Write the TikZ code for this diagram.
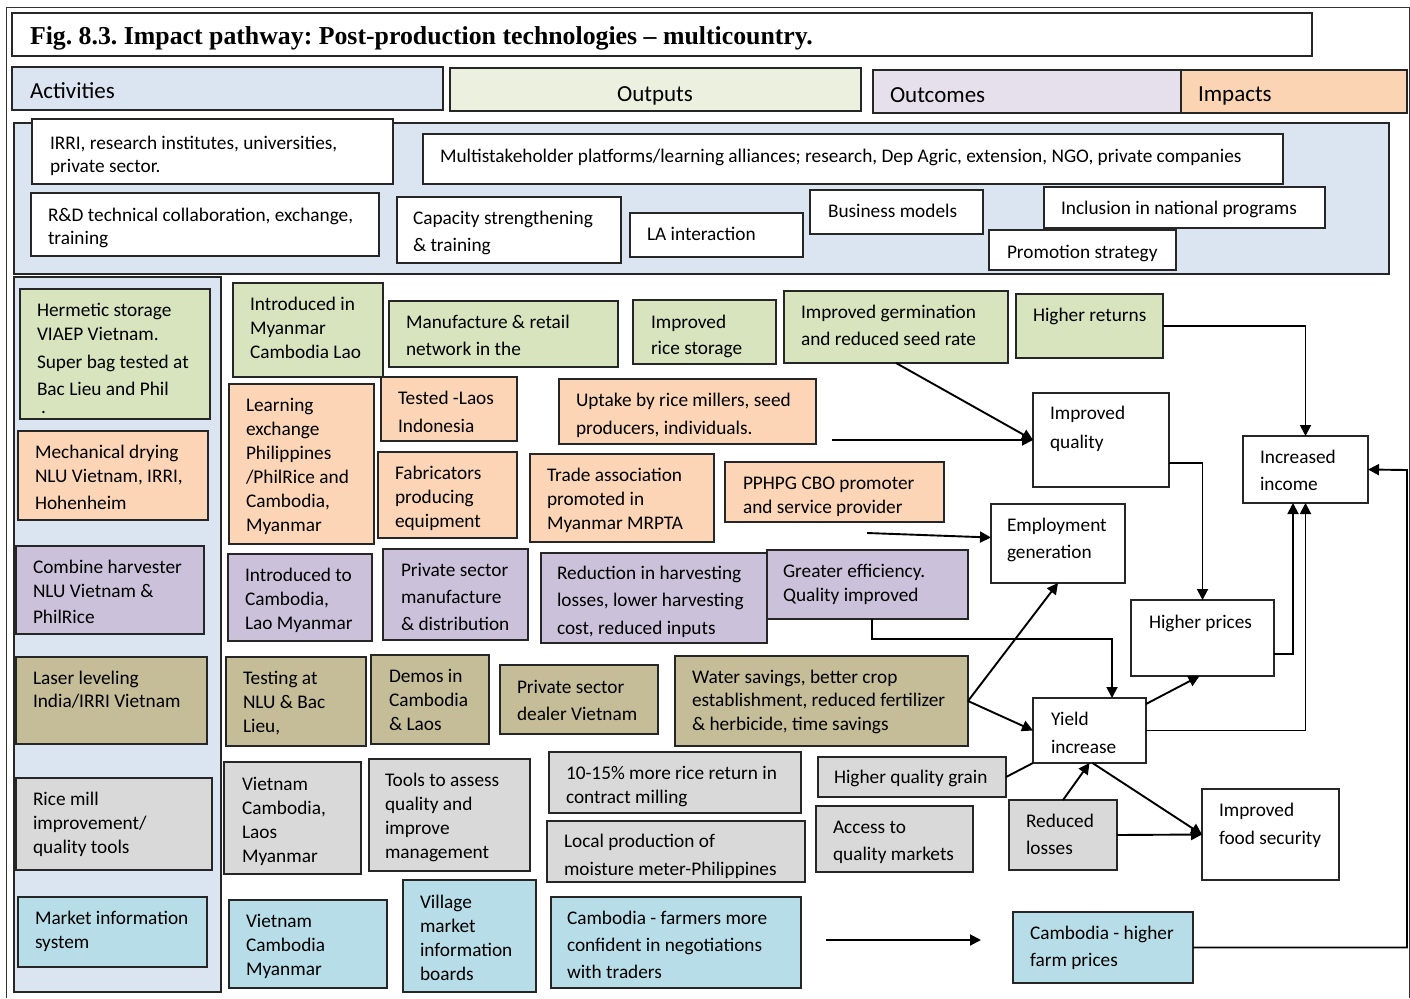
\documentclass[tikz,border=0pt]{standalone}
\usepackage{fontspec}
\setmainfont{Carlito}
\newfontfamily\titlefont{Liberation Serif}
\usetikzlibrary{arrows.meta,calc}
\frenchspacing

\definecolor{pblue}{HTML}{DBE5F1}
\definecolor{hgreen}{HTML}{EBF1DE}
\definecolor{hlav}{HTML}{E5E0EC}
\definecolor{hpeach}{HTML}{FBD4B4}
\definecolor{cgreen}{HTML}{D7E4BD}
\definecolor{cpeach}{HTML}{FBD5B5}
\definecolor{clav}{HTML}{CCC1DA}
\definecolor{ckhaki}{HTML}{C4BD97}
\definecolor{cgray}{HTML}{D9D9D9}
\definecolor{cblue}{HTML}{B7DEE8}

\tikzset{
  boxst/.style={draw=black!85, line width=1.4pt, inner sep=0pt, outer sep=0pt, anchor=north west, rectangle},
  txt/.style={inner sep=0pt, outer sep=0pt, align=left, anchor=north west, text=black},
  arr/.style={line width=1.9pt, -{Triangle[length=11pt,width=11pt]}},
  conn/.style={line width=1.9pt},
}

\newcommand{\bx}[6]{\node[boxst, fill=#6, minimum width={(#4)-(#2)}, minimum height={(#5)-(#3)}] (#1) at (#2,#3) {};}
\newcommand{\tx}[5][24]{\node[txt, font=\fontsize{19.3}{#1}\selectfont] (#2) at (#3,{#4-0.7*#1}) {\strut #5};}
\newcommand{\hx}[4]{\node[txt, font=\fontsize{23}{28}\selectfont] (#1) at (#2,{#3-19.6}) {\strut #4};}

\begin{document}
\begin{tikzpicture}[x=1pt,y=-1pt]
\useasboundingbox (0,0) rectangle (1410,998);
\fill[white] (0,0) rectangle (1410,998);
% outer frame
\draw[line width=0.8pt, black!80] (6.5,998) -- (6.5,7) -- (1409,7) -- (1409,998);

% title
\bx{tbox}{12}{13}{1312}{56}{white}
\node[txt, font=\titlefont\bfseries\fontsize{25.8}{30}\selectfont] (title) at (30,{45-21}) {\strut Fig. 8.3. Impact pathway: Post-production technologies – multicountry.};

% headers
\bx{hact}{12}{67}{443}{110}{pblue}
\bx{hout}{450}{68}{861}{111}{hgreen}
\bx{hoc}{873}{70}{1181}{113}{hlav}
\bx{himp}{1181}{70}{1407}{113}{hpeach}
\hx{thact}{30}{98}{Activities}
\node[txt, anchor=north, font=\fontsize{23}{28}\selectfont] (thout) at (655,{101-19.6}) {\strut Outputs};
\hx{thoc}{890}{102}{Outcomes}
\hx{thimp}{1198}{101}{Impacts}

% panels
\bx{ptop}{14}{123}{1389}{274}{pblue}
\bx{pleft}{14}{277}{221}{992}{pblue}

% top panel boxes
\bx{irri}{32}{119}{393}{184}{white}
\bx{multi}{423}{134}{1283}{184}{white}
\bx{rd}{31}{193}{379}{256}{white}
\bx{cap}{397}{197}{621}{263}{white}
\bx{la}{630}{213}{803}{257}{white}
\bx{bm}{810}{190}{983}{234}{white}
\bx{incl}{1044}{187}{1325}{228}{white}
\bx{promo}{989}{230}{1176}{270}{white}
\tx[23]{tirri}{50}{149}{IRRI, research institutes, universities,\\private sector.}
\tx{tmulti}{440}{162}{Multistakeholder platforms/learning alliances; research, Dep Agric, extension, NGO, private companies}
\tx[23]{trd}{48}{221}{R\&D technical collaboration, exchange,\\training}
\tx[27]{tcap}{413}{224}{Capacity strengthening\\\& training}
\tx{tla}{647}{240}{LA interaction}
\tx{tbm}{828}{217}{Business models}
\tx{tincl}{1061}{214}{Inclusion in national programs}
\tx{tpromo}{1007}{258}{Promotion strategy}

% left column
\bx{herm}{20}{289}{210}{419}{cgreen}
\bx{mech}{18}{431}{208}{520}{cpeach}
\bx{comb}{16}{546}{204}{634}{clav}
\bx{laser}{16}{657}{207}{744}{ckhaki}
\bx{mill}{16}{778}{212}{870}{cgray}
\bx{mis}{18}{897}{207}{967}{cblue}
\tx{therm}{37}{316}{Hermetic storage\\VIAEP Vietnam.\\[4pt]Super bag tested at\\[3pt]Bac Lieu and Phil}
\node[txt, font=\fontsize{19.3}{24}\selectfont, anchor=base west] (thermdot) at (41,413) {.};
\tx{tmech}{35}{458}{Mechanical drying\\NLU Vietnam, IRRI,\\[3pt]Hohenheim}
\tx{tcomb}{33}{573}{Combine harvester\\NLU Vietnam \&\\[2pt]PhilRice}
\tx[23]{tlaser}{33}{684}{Laser leveling\\India/IRRI Vietnam}
\tx{tmill}{33}{805}{Rice mill\\improvement/\\quality tools}
\tx{tmis}{35}{924}{Market information\\system}

% column 2
\bx{intmy}{233}{283}{383}{377}{cgreen}
\bx{learn}{229}{384}{374}{544}{cpeach}
\bx{intcam}{228}{554}{372}{641}{clav}
\bx{test}{226}{657}{366}{746}{ckhaki}
\bx{vcl}{224}{762}{361}{874}{cgray}
\bx{vcm}{229}{900}{387}{988}{cblue}
\tx{tintmy}{250}{310}{Introduced in\\Myanmar\\Cambodia Lao}
\tx{tlearn}{246}{411}{Learning\\exchange\\Philippines\\/PhilRice and\\Cambodia,\\Myanmar}
\tx{tintcam}{245}{581}{Introduced to\\Cambodia,\\Lao Myanmar}
\tx{ttest}{243}{684}{Testing at\\NLU \& Bac\\Lieu,}
\tx{tvcl}{242}{790}{Vietnam\\Cambodia,\\Laos\\Myanmar}
\tx{tvcm}{246}{927}{Vietnam\\Cambodia\\Myanmar}

% column 3
\bx{manu}{389}{301}{618}{367}{cgreen}
\bx{tested}{381}{377}{517}{441}{cpeach}
\bx{fab}{378}{452}{517}{538}{cpeach}
\bx{psm}{383}{549}{528}{640}{clav}
\bx{demos}{371}{655}{489}{744}{ckhaki}
\bx{tools}{369}{759}{530}{871}{cgray}
\bx{vil}{403}{880}{536}{992}{cblue}
\tx[27]{tmanu}{406}{328}{Manufacture \& retail\\network in the}
\tx[28]{ttested}{398}{404}{Tested -Laos\\Indonesia}
\tx{tfab}{395}{479}{Fabricators\\producing\\equipment}
\tx[27]{tpsm}{401}{576}{Private sector\\manufacture\\\& distribution}
\tx{tdemos}{389}{682}{Demos in\\Cambodia\\\& Laos}
\tx{ttools}{385}{786}{Tools to assess\\quality and\\improve\\management}
\tx{tvil}{420}{908}{Village\\market\\information\\boards}

% column 4
\bx{irs}{633}{300}{776}{364}{cgreen}
\bx{upt}{559}{379}{816}{444}{cpeach}
\bx{trade}{530}{454}{714}{542}{cpeach}
\bx{redh}{541}{553}{767}{643}{clav}
\bx{psd}{500}{665}{658}{734}{ckhaki}
\bx{ret}{549}{752}{801}{813}{cgray}
\bx{moist}{547}{821}{805}{882}{cgray}
\bx{cfc}{551}{897}{801}{988}{cblue}
\tx[26]{tirs}{651}{328}{Improved\\rice storage}
\tx[28]{tupt}{576}{406}{Uptake by rice millers, seed\\producers, individuals.}
\tx{ttrade}{547}{481}{Trade association\\promoted in\\Myanmar MRPTA}
\tx[27.5]{tredh}{557}{579}{Reduction in harvesting\\losses, lower harvesting\\cost, reduced inputs}
\tx[27]{tpsd}{517}{693}{Private sector\\dealer Vietnam}
\tx{tret}{566}{779}{10-15\% more rice return in\\contract milling}
\tx[28]{tmoist}{564}{847}{Local production of\\moisture meter-Philippines}
\tx[27]{tcfc}{567}{924}{Cambodia - farmers more\\confident in negotiations\\with traders}

% column 5
\bx{germ}{784}{291}{1008}{363}{cgreen}
\bx{hret}{1016}{294}{1163}{358}{cgreen}
\bx{pphpg}{725}{462}{944}{522}{cpeach}
\bx{ge}{767}{550}{968}{619}{clav}
\bx{ws}{675}{656}{968}{746}{ckhaki}
\bx{hqg}{818}{757}{1006}{797}{cgray}
\bx{acc}{816}{806}{973}{872}{cgray}
\bx{red}{1009}{800}{1117}{870}{cgray}
\bx{chp}{1013}{912}{1193}{983}{cblue}
\tx[27]{tgerm}{801}{318}{Improved germination\\and reduced seed rate}
\tx{thret}{1033}{321}{Higher returns}
\tx{tpphpg}{743}{489}{PPHPG CBO promoter\\and service provider}
\tx{tge}{783}{577}{Greater efficiency.\\Quality improved}
\tx[23.5]{tws}{692}{683}{Water savings, better crop\\establishment, reduced fertilizer\\\& herbicide, time savings}
\tx{thqg}{834}{783}{Higher quality grain}
\tx[27]{tacc}{833}{833}{Access to\\quality markets}
\tx[27]{tred}{1026}{827}{Reduced\\losses}
\tx[27]{tchp}{1030}{939}{Cambodia - higher\\farm prices}

% outcome boxes
\bx{iq}{1033}{393}{1169}{487}{white}
\bx{emp}{991}{504}{1125}{583}{white}
\bx{inc}{1243}{436}{1368}{503}{white}
\bx{hp}{1131}{600}{1274}{676}{white}
\bx{yld}{1033}{698}{1146}{763}{white}
\bx{ifs}{1202}{789}{1339}{880}{white}
\tx[29]{tiq}{1050}{419}{Improved\\quality}
\tx[27]{temp}{1007}{531}{Employment\\generation}
\tx[27]{tinc}{1260}{463}{Increased\\income}
\tx{thp}{1149}{628}{Higher prices}
\tx[28]{tyld}{1051}{725}{Yield\\increase}
\tx[28]{tifs}{1219}{816}{Improved\\food security}

% free ends
\coordinate (f1) at (832,440);
\coordinate (f2) at (867,533);
\coordinate (f3) at (826,940);
\coordinate (f4) at (981,940);
\coordinate (rt) at (1407,470);

% connectors
\draw[arr] (hret.east) -| (inc.north);
\draw[arr] (germ.south) -- (iq.west);
\draw[arr] (f1) -- (iq.west);
\draw[arr] ($(iq.east)+(0,23)$) -| (hp.north);
\draw[arr] (f2) -- ($(emp.west)+(0,-6)$);
\draw[arr] ($(ge.south)+(4.5,0)$) -- ++(0,20) -| ($(yld.north)+(22.5,0)$);
\draw[arr] (ws.east) -- (emp.south);
\draw[arr] (ws.east) -- (yld.west);
\draw[arr] ($(hp.east)+(0,16)$) -| ($(inc.south)+(-12.5,0)$);
\draw[arr] (yld.east) -| (inc.south);
\draw[arr] ($(yld.north east)+(0,6)$) -- ($(hp.south)+(-3,0)$);
\draw[conn] (hqg.east) -- (yld.south west);
\draw[arr] (red.north) -- (yld.south);
\draw[arr] ($(yld.south)+(3,0)$) -- (ifs.west);
\draw[arr] (red.east) -- (ifs.west);
\draw[arr] (f3) -- (f4);
\draw[arr] (chp.east) -| (rt) -- (inc.east);
\end{tikzpicture}
\end{document}
